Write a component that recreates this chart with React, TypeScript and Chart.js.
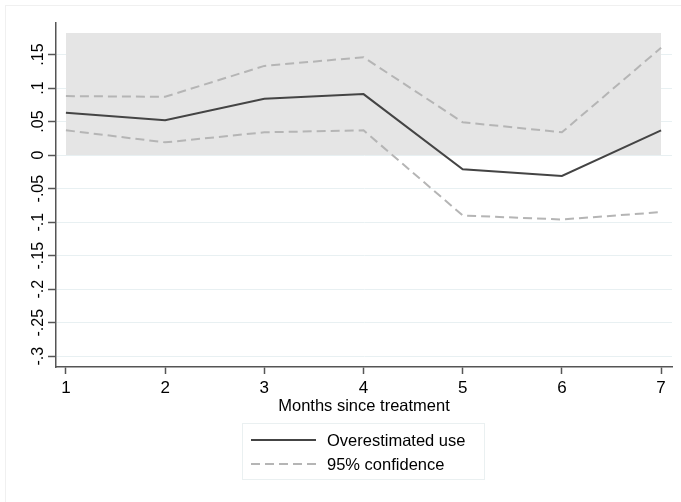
import React, { useEffect, useRef } from 'react';
import { Chart, registerables } from 'chart.js';

Chart.register(...registerables);

// ---- data ----
const months = [1, 2, 3, 4, 5, 6, 7];
const estimate = [0.063, 0.052, 0.084, 0.091, -0.021, -0.031, 0.037];
const upper = [0.088, 0.087, 0.133, 0.146, 0.049, 0.034, 0.16];
const lower = [0.037, 0.019, 0.034, 0.037, -0.09, -0.096, -0.085];
const yTicks = [-0.3, -0.25, -0.2, -0.15, -0.1, -0.05, 0, 0.05, 0.1, 0.15];
const shadeX = [1, 7];
const shadeTop = 0.182;
const xTitle = 'Months since treatment';
const legendLabels = ['Overestimated use', '95% confidence'];

const FONT = '"Liberation Sans", Arial, Helvetica, sans-serif';

const fmt = (v: number): string => {
  if (Math.abs(v) < 1e-9) return '0';
  const s = String(+v.toFixed(2));
  return s.replace('0.', '.');
};

const pts = (ys: number[]) => months.map((m, i) => ({ x: m, y: ys[i] }));

export default function App() {
  const ref = useRef<HTMLCanvasElement | null>(null);

  useEffect(() => {
    if (!ref.current) return;
    const chart = new Chart(ref.current, {
      type: 'line',
      data: {
        datasets: [
          {
            label: legendLabels[0],
            data: pts(estimate),
            borderColor: '#444',
            borderWidth: 2,
            pointRadius: 0,
            fill: false,
            order: 0,
          },
          {
            label: legendLabels[1],
            data: pts(upper),
            borderColor: '#b5b5b5',
            borderWidth: 2,
            borderDash: [9, 5],
            pointRadius: 0,
            fill: false,
            order: 1,
          },
          {
            label: 'lower',
            data: pts(lower),
            borderColor: '#b5b5b5',
            borderWidth: 2,
            borderDash: [9, 5],
            pointRadius: 0,
            fill: false,
            order: 1,
          },
          {
            label: 'shade',
            data: shadeX.map((x) => ({ x, y: shadeTop })),
            borderWidth: 0,
            borderColor: 'rgba(0,0,0,0)',
            backgroundColor: '#e5e5e5',
            pointRadius: 0,
            fill: 'origin',
            order: 10,
          },
        ],
      },
      options: {
        responsive: false,
        animation: false,
        events: [],
        layout: { padding: { left: 0, right: 9, top: 23, bottom: 86 } },
        plugins: {
          legend: { display: false },
          tooltip: { enabled: false },
          title: { display: false },
        },
        scales: {
          x: {
            type: 'linear',
            min: 0.9,
            max: 7.11,
            afterBuildTicks: (s: any) => {
              s.ticks = months.map((v) => ({ value: v }));
            },
            afterFit: (s: any) => {
              s.height = 49;
            },
            ticks: {
              autoSkip: false,
              maxRotation: 0,
              minRotation: 0,
              padding: 4,
              color: '#000',
              font: { family: FONT, size: 17 },
              callback: (v: any) => String(v),
            },
            grid: {
              drawOnChartArea: false,
              tickLength: 7,
              tickColor: '#555',
              tickWidth: 1.5,
            },
            border: { color: '#555', width: 1.5 },
            title: {
              display: true,
              text: xTitle,
              color: '#000',
              padding: 0,
              font: { family: FONT, size: 16.5, lineHeight: 1.2 },
            },
          },
          y: {
            type: 'linear',
            min: -0.316,
            max: 0.197,
            afterBuildTicks: (s: any) => {
              s.ticks = yTicks.map((v) => ({ value: v }));
            },
            afterFit: (s: any) => {
              s.width = 56;
            },
            ticks: {
              autoSkip: false,
              minRotation: 90,
              maxRotation: 90,
              crossAlign: 'center',
              padding: -4,
              color: '#000',
              font: { family: FONT, size: 16 },
              callback: (v: any) => fmt(Number(v)),
            },
            grid: {
              color: '#e8f0f2',
              lineWidth: 1,
              tickLength: 8,
              tickColor: '#555',
              tickWidth: 1.5,
            },
            border: { color: '#555', width: 1.5 },
          },
        },
      },
    } as any);
    return () => chart.destroy();
  }, []);

  const legendRow = (dashed: boolean, text: string, top: number) => (
    <div style={{ position: 'absolute', left: 0, top, height: 24, width: '100%' }}>
      <svg width={80} height={24} style={{ position: 'absolute', left: 0, top: 0 }}>
        <line
          x1={8}
          x2={73}
          y1={12}
          y2={12}
          stroke={dashed ? '#b5b5b5' : '#444'}
          strokeWidth={2}
          strokeDasharray={dashed ? '9 5' : undefined}
        />
      </svg>
      <span
        style={{
          position: 'absolute',
          left: 84,
          top: 0,
          lineHeight: '24px',
          fontFamily: FONT,
          fontSize: 16.5,
          color: '#000',
          whiteSpace: 'nowrap',
        }}
      >
        {text}
      </span>
    </div>
  );

  return (
    <div
      style={{
        position: 'absolute',
        left: 0,
        top: 0,
        width: 681,
        height: 502,
        overflow: 'hidden',
        background: '#fff',
      }}
    >
      <canvas ref={ref} width={681} height={502} style={{ display: 'block', width: 681, height: 502 }} />
      <div
        style={{
          position: 'absolute',
          left: 5,
          top: 5,
          width: 700,
          height: 520,
          borderLeft: '1px solid #f0f0f0',
          borderTop: '1px solid #f0f0f0',
          pointerEvents: 'none',
        }}
      />
      <div
        style={{
          position: 'absolute',
          left: 242,
          top: 423,
          width: 243,
          height: 57,
          border: '1px solid #eaf0f1',
          boxSizing: 'border-box',
        }}
      >
        {legendRow(false, legendLabels[0], 4)}
        {legendRow(true, legendLabels[1], 28)}
      </div>
    </div>
  );
}
